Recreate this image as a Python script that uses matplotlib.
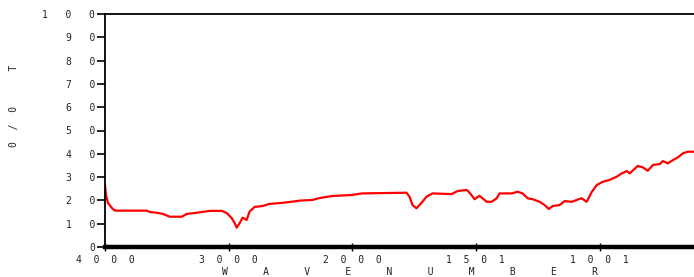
import numpy as np
import matplotlib
matplotlib.use("Agg")
import matplotlib.pyplot as plt

# spectrum (wavenumber, %T)
wavenumber = [4000, 3992, 3976, 3944, 3919, 3661, 3637, 3581, 3532, 3476,
              3379, 3339, 3258, 3153, 3056, 3016, 2976, 2952, 2935, 2911,
              2887, 2855, 2831, 2790, 2726, 2669, 2573, 2452, 2427, 2323,
              2266, 2161, 2008, 1960, 1781, 1769, 1757, 1741, 1721, 1700,
              1676, 1599, 1575, 1538, 1526, 1506, 1486, 1457, 1437, 1417,
              1405, 1356, 1332, 1312, 1291, 1271, 1243, 1223, 1206, 1190,
              1162, 1142, 1113, 1093, 1073, 1053, 1032, 1012, 988, 960,
              931, 911, 891, 879, 846, 826, 806, 785, 757, 745,
              725, 704, 684, 664, 644, 619]
transmittance = [26.6, 22.3, 18.9, 16.7, 15.6, 15.6, 15.0, 14.7, 14.2, 13.0,
                 13.0, 14.2, 14.7, 15.5, 15.5, 14.6, 12.4, 10.3, 8.3, 10.3,
                 12.6, 11.6, 15.2, 17.2, 17.6, 18.5, 18.9, 19.7, 19.9, 20.2,
                 21.0, 21.9, 22.3, 23.0, 23.3, 21.6, 18.0, 16.6, 18.9, 21.6,
                 23.0, 22.7, 24.0, 24.5, 23.3, 20.5, 22.0, 19.4, 19.4, 20.9,
                 23.0, 23.0, 23.7, 23.0, 20.9, 20.5, 19.4, 18.0, 16.3, 17.6,
                 18.0, 19.7, 19.4, 20.2, 20.9, 19.4, 23.7, 26.6, 28.0, 28.8,
                 30.2, 31.6, 32.6, 31.6, 34.8, 34.2, 32.7, 35.2, 35.6, 36.9,
                 35.9, 37.3, 38.5, 40.2, 40.9, 40.9]

xticks = [4000, 3000, 2000, 1501, 1001]
yticks = list(range(0, 101, 10))


def spaced(s, n=2):
    return (" " * n).join(s)


# IR-style axis: 4000-2000 at half the scale of 2000 and below
def fwd(w):
    w = np.asarray(w, dtype=float)
    return np.where(w > 2000, w / 2 + 1000, w)


def inv(u):
    u = np.asarray(u, dtype=float)
    return np.where(u > 2000, (u - 1000) * 2, u)


fig = plt.figure(figsize=(6.94, 2.77), dpi=100)
ax = fig.add_axes([105 / 694, 30 / 277, 589 / 694, 233 / 277])

ax.plot(wavenumber, transmittance, color="#ff0000", lw=1.6)

ax.set_xscale("function", functions=(fwd, inv))
ax.set_xlim(4000, 619)
ax.set_ylim(0, 100)

font = dict(family="DejaVu Sans Mono", size=7, color="#222222")

ax.set_xticks(xticks)
ax.set_xticklabels([spaced(str(t)) for t in xticks], fontdict=font)
ax.set_yticks(yticks)
ax.set_yticklabels([spaced(str(t), 3) for t in yticks], fontdict=font)
ax.minorticks_off()

ax.tick_params(axis="y", direction="out", length=6, width=1.2, pad=1)
ax.tick_params(axis="x", direction="inout", length=6, width=1.0, pad=3)

ax.spines["right"].set_visible(False)
ax.spines["top"].set_linewidth(1.3)
ax.spines["left"].set_linewidth(1.3)
ax.spines["bottom"].set_linewidth(3.2)

ax.set_xlabel(spaced("WAVENUMBER", 6), fontdict=font)
ax.xaxis.set_label_coords(0.518, -0.085)

fig.text(14 / 694, 1 - 106 / 277, "0  /  0      T", rotation=90,
         ha="center", va="center", **font)

fig.savefig("out.png", dpi=100)
